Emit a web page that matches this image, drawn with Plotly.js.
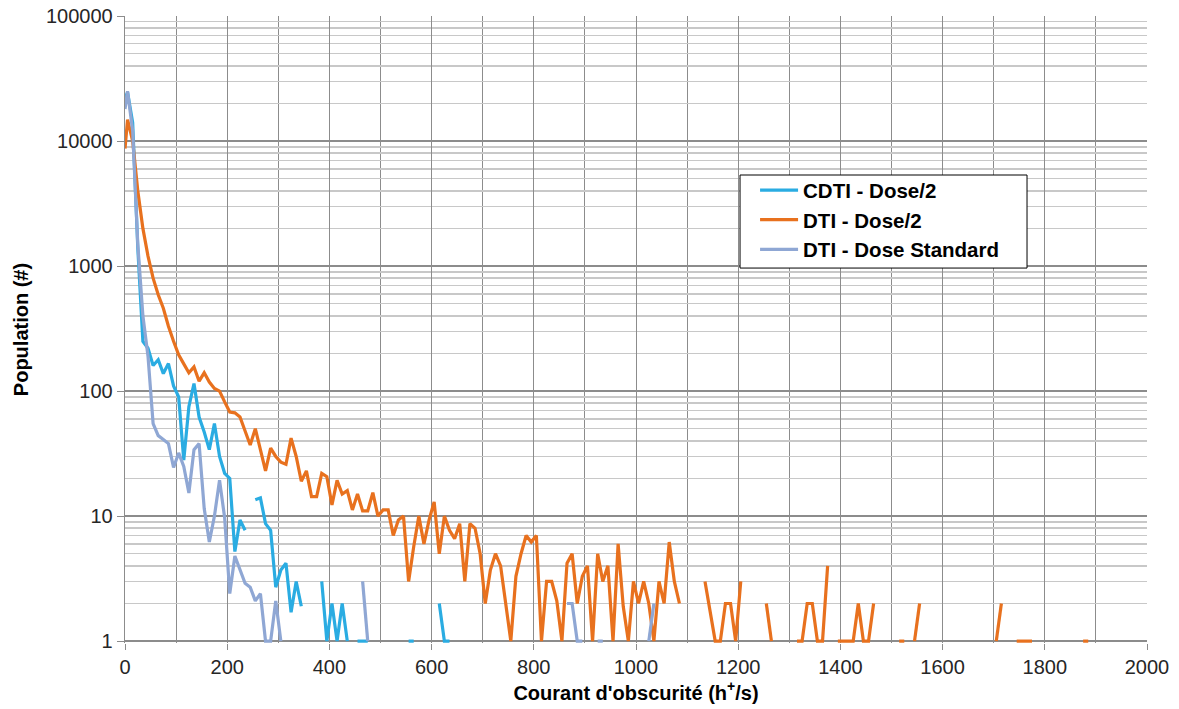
<!DOCTYPE html>
<html>
<head>
<meta charset="utf-8">
<script src="https://cdn.plot.ly/plotly-3.0.1.min.js"></script>
<style>
  html, body { margin: 0; padding: 0; background: #ffffff; }
  #chart { width: 1179px; height: 709px; }
</style>
</head>
<body>
<div id="chart"></div>
<script>
// Histogram bins (h+/s): first sample at 0, then bin centres every 10 from 5 to 1885
const firstBin = 0;
const binStart = 5;
const binWidth = 10;
const binEnd = 1885;

const seriesNames = ["CDTI - Dose/2", "DTI - Dose/2", "DTI - Dose Standard"];
const seriesColors = ["#2AACE2", "#E8711E", "#8FA7D4"];

// CDTI - Dose/2
const cdtiDose2 = [
  22000, 24500, 14000, 1400, 250, 220, 160, 178, 138, 166,
  110, 90, 28, 75, 115, 62, 47, 34, 55, 30,
  22, 20, 5.2, 9.3, 7.7, null, 13.5, 14, 8.7, 7.7,
  2.7, 3.7, 4.2, 1.7, 3, 1.9, null, null, null, 3,
  1, 2, 1, 2, 1, null, 1, 1, 1, null,
  null, null, null, null, null, null, 1, 1, null, null,
  null, null, 2, 1, 1
];

// DTI - Dose/2
const dtiDose2 = [
  8700, 14800, 10000, 4000, 2000, 1200, 800, 590, 460, 330,
  250, 195, 165, 140, 156, 120, 140, 118, 105, 100,
  82, 68, 67, 62, 48, 37, 50, 33, 23, 35,
  30, 27, 26, 42, 30, 19, 23, 14.3, 14.3, 22,
  20.7, 12.3, 19.3, 15, 16, 11.2, 15, 11, 11, 15.4,
  10, 11.2, 11.2, 7, 9.3, 10, 3, 5.7, 10, 6,
  9.3, 13, 5, 10, 7.7, 6.6, 8.7, 3, 8.7, 8,
  5, 2, 3.7, 5, 4, 2, 1, 3.3, 5, 7,
  6.2, 7, 1, 3, 3, 2.1, 1, 4.2, 5, 2,
  3.3, 4, 1, 5, 3, 4, 1, 6, 1.9, 1,
  3, 2, 3, 2, 1, 3, 2, 6.2, 3, 2,
  null, null, null, null, 3, 1.7, 1, 1, 2, 2,
  1, 3, null, null, null, null, 2, 1, null, null,
  null, null, 1, 1, 2, 2, 1, 1, 4, null,
  1, 1, 1, 1, 2, 1, 1, 2, null, null,
  null, null, 1, 1, null, 1, 2, null, null, null,
  null, null, null, null, null, null, null, null, null, null,
  null, 1, 2, null, null, 1, 1, 1, 1, null,
  null, null, null, null, null, null, null, null, 1, 1
];

// DTI - Dose Standard
const dtiDoseStandard = [
  18000, 25000, 12000, 1500, 400, 190, 55, 44, 41, 38,
  24.5, 32, 25, 15.3, 34, 38, 11.5, 6.2, 10, 19.4,
  9.7, 2.4, 4.8, 3.7, 2.9, 2.7, 2.1, 2.4, 1, 1,
  2.1, 1, null, null, null, null, null, null, null, null,
  null, null, null, null, null, null, null, 3, 1, null,
  null, null, null, null, null, null, null, null, null, null,
  null, null, null, null, null, null, null, null, null, null,
  null, null, null, null, null, null, null, null, null, null,
  null, null, null, null, null, null, null, 2, 2, 1,
  1, null, null, 1, 1, null, null, null, null, null,
  null, null, null, 1, 2
];

const yTickVals = [1, 10, 100, 1000, 10000, 100000];
const yTickText = ["1", "10", "100", "1000", "10000", "100000"];
const xTickVals = [0, 200, 400, 600, 800, 1000, 1200, 1400, 1600, 1800, 2000];

const xTitle = "Courant d'obscurité (h<sup>+</sup>/s)";
const yTitle = "Population (#)";

const bins = [firstBin];
for (let c = binStart; c <= binEnd; c += binWidth) bins.push(c);

const seriesData = [cdtiDose2, dtiDose2, dtiDoseStandard];
const FONT = "Liberation Sans, Arial, sans-serif";

const traces = seriesData.map((ys, i) => ({
  type: "scatter",
  mode: "lines",
  name: seriesNames[i],
  x: bins.slice(0, ys.length),
  y: ys,
  connectgaps: false,
  line: { color: seriesColors[i], width: 3.2 },
  hoverinfo: "x+y+name"
}));

const layout = {
  width: 1179,
  height: 709,
  margin: { l: 125, r: 32, t: 16, b: 66, pad: 0 },
  paper_bgcolor: "#ffffff",
  plot_bgcolor: "#ffffff",
  font: { family: FONT, size: 20, color: "#262626" },
  showlegend: true,
  xaxis: {
    type: "linear",
    range: [0, 2000],
    tickvals: xTickVals,
    ticktext: xTickVals.map(String),
    tickfont: { family: FONT, size: 20, color: "#262626" },
    ticks: "outside",
    ticklen: 6,
    tickcolor: "#8c8c8c",
    tickwidth: 1,
    showgrid: true,
    gridcolor: "#8c8c8c",
    gridwidth: 1,
    minor: { dtick: 100, showgrid: true, gridcolor: "#8c8c8c", gridwidth: 1, ticks: "" },
    showline: false,
    zeroline: false,
    title: { text: xTitle, font: { family: FONT, size: 20, color: "#000000", weight: "bold" }, standoff: 8 }
  },
  yaxis: {
    type: "log",
    range: [-0.015, 5],
    tickvals: yTickVals,
    ticktext: yTickText,
    tickfont: { family: FONT, size: 20, color: "#262626" },
    ticks: "outside",
    ticklen: 7,
    tickcolor: "#8c8c8c",
    tickwidth: 1,
    showgrid: true,
    gridcolor: "#8c8c8c",
    gridwidth: 1.3,
    minor: { dtick: "D1", showgrid: true, gridcolor: "#c8c8c8", gridwidth: 1.5, ticks: "" },
    showline: true,
    linecolor: "#8c8c8c",
    linewidth: 1.3,
    zeroline: false,
    title: { text: yTitle, font: { family: FONT, size: 20, color: "#000000", weight: "bold" }, standoff: 12 }
  },
  legend: {
    x: 0.6165,
    y: 0.754,
    xanchor: "left",
    yanchor: "top",
    bgcolor: "rgba(0,0,0,0)",
    borderwidth: 0,
    font: { family: FONT, size: 20.5, color: "#000000", weight: "bold" },
    itemwidth: 38,
    tracegroupgap: 0
  },
  shapes: [{
    type: "rect",
    xref: "paper", yref: "paper",
    x0: 0.6018, x1: 0.8826,
    y0: 0.598, y1: 0.7464,
    fillcolor: "#ffffff",
    line: { color: "#000000", width: 1 },
    layer: "above"
  }]
};

Plotly.newPlot("chart", traces, layout, { displayModeBar: false, staticPlot: true });
</script>
</body>
</html>
